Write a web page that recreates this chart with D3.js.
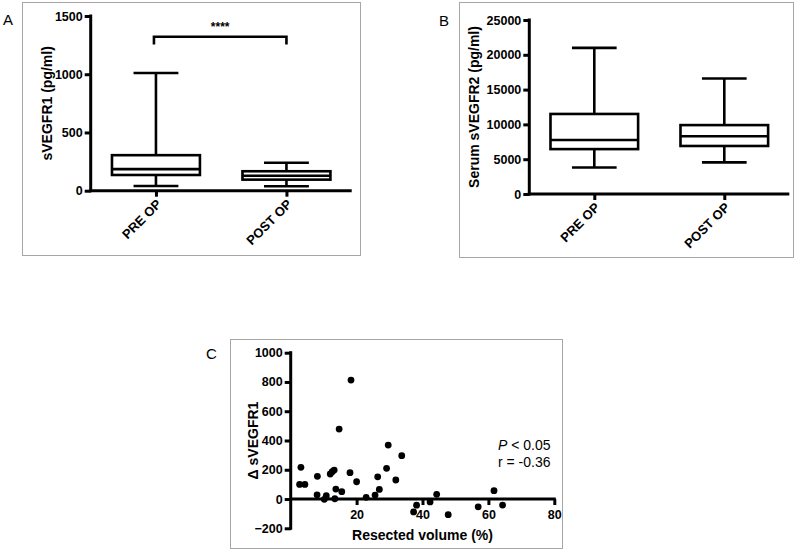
<!DOCTYPE html>
<html>
<head>
<meta charset="utf-8">
<script src="https://cdn.jsdelivr.net/npm/d3@7"></script>
<style>
  html, body { margin: 0; padding: 0; background: #fff; }
  svg { display: block; font-family: Arial, "Liberation Sans", sans-serif; }
</style>
</head>
<body>
<svg id="chart" width="800" height="550"></svg>
<script>
// ---- Data ----
const categories = ["PRE OP", "POST OP"];

// Panel A: sVEGFR1 (pg/ml)
const aMin    = [40, 38];
const aQ1     = [135, 95];
const aMedian = [185, 128];
const aQ3     = [305, 167];
const aMax    = [1010, 240];
const aTicks  = [0, 500, 1000, 1500];
const aSignif = "****";

// Panel B: Serum sVEGFR2 (pg/ml)
const bMin    = [3800, 4550];
const bQ1     = [6450, 6900];
const bMedian = [7750, 8300];
const bQ3     = [11500, 9900];
const bMax    = [21000, 16600];
const bTicks  = [0, 5000, 10000, 15000, 20000, 25000];

// Panel C: resected volume (%) vs delta sVEGFR1
const cVolume = [2.7, 3.1, 4.3, 8.1, 8.0, 10.2, 10.8, 12.0, 12.6, 13.2, 13.4, 13.7, 15.5, 14.7, 18.3, 18.0, 20.0,
                 22.9, 25.6, 26.4, 26.9, 29.1, 29.6, 31.9, 33.7, 38.2, 37.3, 42.3, 44.3, 47.8, 56.9, 61.7, 64.3];
const cDelta  = [100, 217, 100, 155, 29, -2, 23, 171, 187, 198, 2, 68, 50, 478, 813, 180, 118,
                 12, 27, 152, 66, 210, 369, 130, 296, -42, -88, -20, 32, -107, -53, 57, -41];
const cXTicks = [20, 40, 60, 80];
const cYTicks = [-200, 0, 200, 400, 600, 800, 1000];
const cStats  = { p: "< 0.05", r: "r = -0.36" };

// ---- Drawing ----
const svg = d3.select("#chart");
const FRAME = "#a6a6a6";
const AXW = 3, BOXW = 2.6;

function frame(x0, y0, x1, y1) {
  svg.append("rect").attr("x", x0 + 0.5).attr("y", y0 + 0.5)
    .attr("width", x1 - x0).attr("height", y1 - y0)
    .attr("fill", "none").attr("stroke", FRAME).attr("stroke-width", 1);
}
function panelLetter(txt, x, y) {
  svg.append("text").attr("x", x).attr("y", y).attr("font-size", 15)
    .attr("fill", "#000").text(txt);
}

function boxPanel(opt) {
  const g = svg.append("g");
  const y = d3.scaleLinear().domain(opt.domain).range([opt.y0, opt.y1]);
  const x = d3.scalePoint().domain(categories).range([opt.x0, opt.x1]).padding(0.5);
  const boxW = (opt.x1 - opt.x0) * 0.337;
  const capW = boxW * 0.51;

  // y axis
  const yAxis = d3.axisLeft(y).tickValues(opt.ticks).tickSize(6).tickPadding(2).tickFormat(d3.format("d"));
  const ya = g.append("g").attr("transform", `translate(${opt.x0},0)`).call(yAxis);
  ya.select(".domain").remove();
  ya.selectAll(".tick line").attr("stroke", "#000").attr("stroke-width", AXW);
  ya.selectAll(".tick text").attr("font-size", 12.5).attr("font-weight", "bold")
    .attr("font-family", "Arial, 'Liberation Sans', sans-serif").attr("fill", "#000");
  g.append("line").attr("x1", opt.x0).attr("x2", opt.x0)
    .attr("y1", opt.y1 - 1.5).attr("y2", opt.y0 + 1.5)
    .attr("stroke", "#000").attr("stroke-width", AXW);

  // x axis
  const xAxis = d3.axisBottom(x).tickSize(6).tickFormat("");
  const xa = g.append("g").attr("transform", `translate(0,${opt.y0})`).call(xAxis);
  xa.select(".domain").remove();
  xa.selectAll(".tick line").attr("stroke", "#000").attr("stroke-width", AXW);
  g.append("line").attr("x1", opt.x0 - 1.5).attr("x2", opt.x1)
    .attr("y1", opt.y0).attr("y2", opt.y0)
    .attr("stroke", "#000").attr("stroke-width", AXW);
  g.selectAll("text.xlab").data(categories).join("text").attr("class", "xlab")
    .attr("transform", d => `translate(${x(d) + 3},${opt.y0 + 11}) rotate(-45)`)
    .attr("text-anchor", "end").attr("dy", "0.35em")
    .attr("font-size", 13).attr("font-weight", "bold").attr("fill", "#000").text(d => d);

  // y title
  g.append("text")
    .attr("transform", `translate(${opt.titleX},${(opt.y0 + opt.y1) / 2}) rotate(-90)`)
    .attr("text-anchor", "middle").attr("dy", "0.35em")
    .attr("font-size", 14).attr("font-weight", "bold").attr("fill", "#000").text(opt.title);

  // boxes
  categories.forEach((c, i) => {
    const cx = x(c);
    const s = { stroke: "#000", "stroke-width": BOXW, fill: "none" };
    const ln = (x1, y1, x2, y2) => {
      const l = g.append("line").attr("x1", x1).attr("y1", y1).attr("x2", x2).attr("y2", y2);
      Object.entries(s).forEach(([k, v]) => l.attr(k, v));
    };
    // whiskers
    ln(cx, y(opt.max[i]), cx, y(opt.q3[i]));
    ln(cx, y(opt.q1[i]), cx, y(opt.min[i]));
    ln(cx - capW / 2, y(opt.max[i]), cx + capW / 2, y(opt.max[i]));
    ln(cx - capW / 2, y(opt.min[i]), cx + capW / 2, y(opt.min[i]));
    // box
    g.append("rect").attr("x", cx - boxW / 2).attr("y", y(opt.q3[i]))
      .attr("width", boxW).attr("height", y(opt.q1[i]) - y(opt.q3[i]))
      .attr("fill", "#fff").attr("stroke", "#000").attr("stroke-width", BOXW);
    ln(cx - boxW / 2, y(opt.median[i]), cx + boxW / 2, y(opt.median[i]));
  });
  return { x, y, g };
}

// Panel A
frame(22, 2, 360, 255);
panelLetter("A", 3, 25);
const pa = boxPanel({
  x0: 90.7, x1: 351.7, y0: 190.7, y1: 16, domain: [0, 1500], ticks: aTicks,
  min: aMin, q1: aQ1, median: aMedian, q3: aQ3, max: aMax,
  title: "sVEGFR1 (pg/ml)", titleX: 47
});
// significance bracket
{
  const bx1 = pa.x(categories[0]) - 2, bx2 = pa.x(categories[1]);
  const by = 36.7, legs = 44.5;
  pa.g.append("path")
    .attr("d", `M${bx1},${legs}V${by}H${bx2}V${legs}`)
    .attr("fill", "none").attr("stroke", "#000").attr("stroke-width", BOXW);
  pa.g.append("text").attr("x", (bx1 + bx2) / 2).attr("y", 31)
    .attr("text-anchor", "middle").attr("font-size", 12).attr("font-weight", "bold").text(aSignif);
}

// Panel B
frame(459, 2, 793, 257);
panelLetter("B", 439, 26);
boxPanel({
  x0: 529.3, x1: 789.3, y0: 194, y1: 20, domain: [0, 25000], ticks: bTicks,
  min: bMin, q1: bQ1, median: bMedian, q3: bQ3, max: bMax,
  title: "Serum sVEGFR2 (pg/ml)", titleX: 474
});

// Panel C
frame(230, 339, 562, 548);
panelLetter("C", 206, 359);
{
  const g = svg.append("g");
  const x = d3.scaleLinear().domain([0, 80]).range([290.7, 554.3]);
  const y = d3.scaleLinear().domain([-200, 1000]).range([528.3, 352.7]);

  const ya = g.append("g").attr("transform", `translate(${x(0)},0)`)
    .call(d3.axisLeft(y).tickValues(cYTicks).tickSize(6).tickPadding(2).tickFormat(d3.format("d")));
  ya.select(".domain").remove();
  ya.selectAll(".tick line").attr("stroke", "#000").attr("stroke-width", AXW);
  ya.selectAll(".tick text").attr("font-size", 12.5).attr("font-weight", "bold")
    .attr("font-family", "Arial, 'Liberation Sans', sans-serif").attr("fill", "#000");
  g.append("line").attr("x1", x(0)).attr("x2", x(0)).attr("y1", y(1000) - 1.5).attr("y2", y(-200) + 1.5)
    .attr("stroke", "#000").attr("stroke-width", AXW);

  const xa = g.append("g").attr("transform", `translate(0,${y(0)})`)
    .call(d3.axisBottom(x).tickValues(cXTicks).tickSize(6).tickPadding(5).tickFormat(d3.format("d")));
  xa.select(".domain").remove();
  xa.selectAll(".tick line").attr("stroke", "#000").attr("stroke-width", AXW);
  xa.selectAll(".tick text").attr("font-size", 12.5).attr("font-weight", "bold")
    .attr("font-family", "Arial, 'Liberation Sans', sans-serif").attr("fill", "#000");
  g.append("line").attr("x1", x(0)).attr("x2", x(80) + 1.5).attr("y1", y(0)).attr("y2", y(0))
    .attr("stroke", "#000").attr("stroke-width", AXW);

  g.selectAll("circle").data(cVolume.map((v, i) => [v, cDelta[i]])).join("circle")
    .attr("cx", d => x(d[0])).attr("cy", d => y(d[1])).attr("r", 3.4).attr("fill", "#000");

  g.append("text")
    .attr("transform", `translate(253,${(y(1000) + y(-200)) / 2}) rotate(-90)`)
    .attr("text-anchor", "middle").attr("dy", "0.35em")
    .attr("font-size", 14).attr("font-weight", "bold").text("\u0394 sVEGFR1");
  g.append("text").attr("x", (x(0) + x(80)) / 2).attr("y", 540)
    .attr("text-anchor", "middle").attr("font-size", 14).attr("font-weight", "bold")
    .text("Resected volume (%)");

  const st = g.append("text").attr("x", 498).attr("y", 450).attr("font-size", 14);
  st.append("tspan").attr("font-style", "italic").text("P");
  st.append("tspan").text(" " + cStats.p);
  g.append("text").attr("x", 498).attr("y", 467).attr("font-size", 14).text(cStats.r);
}
</script>
</body>
</html>
